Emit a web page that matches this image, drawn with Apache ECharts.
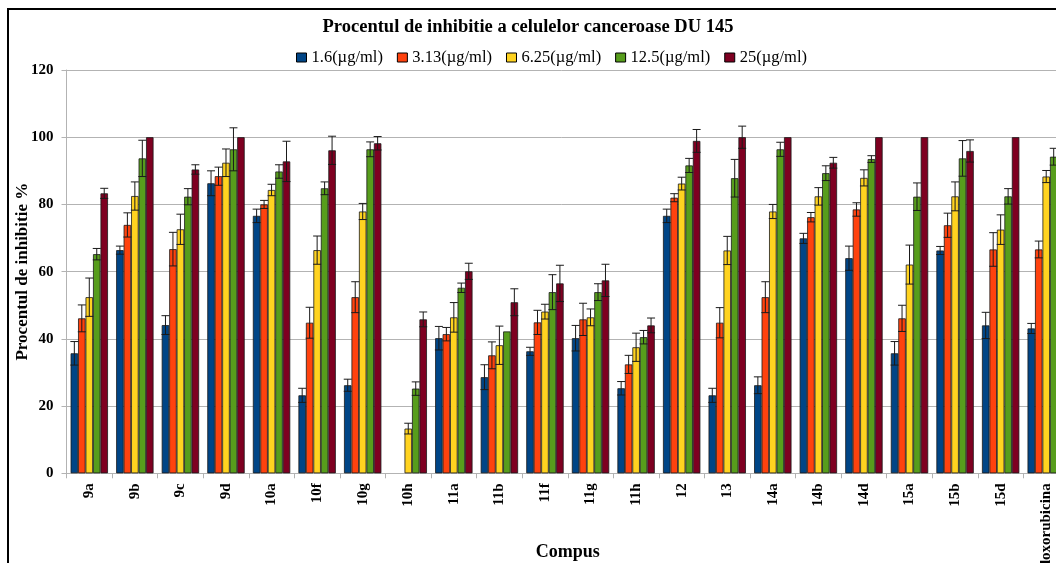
<!DOCTYPE html>
<html>
<head>
<meta charset="utf-8">
<script src="https://cdn.jsdelivr.net/npm/echarts@6/dist/echarts.min.js"></script>
<style>
  html, body { margin: 0; padding: 0; background: #fff; }
  #chart { width: 1056px; height: 563px; }
</style>
</head>
<body>
<div id="chart"></div>
<script>
// Compounds tested against DU 145 cells
const categories = ['9a', '9b', '9c', '9d', '10a', '10f', '10g', '10h', '11a', '11b', '11f', '11g', '11h', '12', '13', '14a', '14b', '14d', '15a', '15b', '15d', 'doxorubicina'];

// Concentration labels
const seriesNames = ['1.6(µg/ml)', '3.13(µg/ml)', '6.25(µg/ml)', '12.5(µg/ml)', '25(µg/ml)'];

// Inhibition (%) per concentration, with standard deviations
const inh1_6 = [35.7, 66.4, 44.1, 86.3, 76.6, 23.2, 26.2, null, 40.2, 28.6, 36.3, 40.2, 25.3, 76.6, 23.2, 26.2, 69.9, 64.0, 35.7, 66.3, 44.0, 43.1];
const sd1_6 = [3.5, 1.2, 2.8, 3.7, 2.0, 2.1, 1.8, null, 3.5, 3.7, 1.2, 3.8, 2.0, 2.0, 2.1, 2.5, 1.5, 3.6, 3.5, 1.2, 3.9, 1.5];

const inh3_13 = [46.1, 73.9, 66.7, 88.4, 80.0, 44.8, 52.4, null, 41.4, 35.1, 44.9, 45.8, 32.4, 82.0, 44.8, 52.4, 76.2, 78.5, 46.1, 73.8, 66.6, 66.6];
const sd3_13 = [4.0, 3.6, 5.0, 2.7, 1.2, 4.6, 4.6, null, 2.0, 4.0, 3.6, 4.8, 2.7, 1.2, 4.5, 4.6, 1.4, 2.0, 3.9, 3.6, 5.0, 2.5];

const inh6_25 = [52.4, 82.5, 72.6, 92.4, 84.3, 66.4, 77.9, 13.3, 46.4, 38.1, 48.1, 46.4, 37.5, 86.2, 66.3, 77.9, 82.4, 87.9, 62.1, 82.4, 72.5, 88.3];
const sd6_25 = [5.7, 4.2, 4.5, 4.1, 1.7, 4.2, 2.4, 1.6, 4.4, 5.7, 2.2, 2.5, 4.2, 1.9, 4.2, 2.1, 2.6, 2.4, 5.8, 4.3, 4.4, 1.8];

const inh12_5 = [65.2, 93.7, 82.3, 96.4, 89.8, 84.8, 96.4, 25.2, 55.2, 42.2, 53.9, 53.9, 40.5, 91.6, 87.8, 96.4, 89.3, 93.5, 82.3, 93.7, 82.4, 94.2];
const sd12_5 = [1.7, 5.4, 2.4, 6.4, 2.0, 1.9, 2.2, 2.0, 1.4, 0, 5.2, 2.5, 2.0, 2.1, 5.6, 2.1, 2.2, 1.0, 4.1, 5.3, 2.3, 2.5];

const inh25 = [83.3, 100, 90.4, 100, 92.8, 96.1, 98.2, 45.8, 60.1, 50.9, 56.5, 57.4, 44.0, 98.9, 100, 100, 92.4, 100, 100, 95.9, 100, 100];
const sd25 = [1.5, 0, 1.4, 0, 6.0, 4.2, 2.0, 2.2, 2.4, 4.0, 5.4, 4.8, 2.2, 3.4, 3.3, 0, 1.6, 0, 0, 3.3, 0, 0];

// Y axis ticks
const yTicks = { min: 0, max: 120, interval: 20 };

const values = [inh1_6, inh3_13, inh6_25, inh12_5, inh25];
const errors = [sd1_6, sd3_13, sd6_25, sd12_5, sd25];
const colors = ['#004586', '#ff420e', '#ffd320', '#579d1c', '#7e0021'];

const FONT = 'Liberation Serif';
const GAP = 0.18;          // category gap fraction
const NSER = values.length;

// Error bar renderer placed over the matching bar in the group
function makeErrorRenderer(si) {
  return function (params, api) {
    const idx = api.value(0);
    const v = api.value(1);
    const e = api.value(2);
    const top = api.coord([idx, v + e]);
    const bot = api.coord([idx, v - e]);
    const band = api.size([1, 0])[0];
    const bw = band * (1 - GAP) / NSER;
    const cx = top[0] - band * (1 - GAP) / 2 + bw * (si + 0.5);
    const half = 4;
    const style = { stroke: '#1a1a1a', lineWidth: 1 };
    return {
      type: 'group',
      children: [
        { type: 'line', shape: { x1: cx, y1: top[1], x2: cx, y2: bot[1] }, style },
        { type: 'line', shape: { x1: cx - half, y1: top[1], x2: cx + half, y2: top[1] }, style },
        { type: 'line', shape: { x1: cx - half, y1: bot[1], x2: cx + half, y2: bot[1] }, style }
      ]
    };
  };
}

const series = [];
values.forEach((vals, si) => {
  series.push({
    name: seriesNames[si],
    type: 'bar',
    data: vals,
    barGap: '0%',
    barCategoryGap: (GAP * 100) + '%',
    itemStyle: { color: colors[si], borderColor: '#1a1a1a', borderWidth: 0.8 },
    emphasis: { disabled: true }
  });
});
values.forEach((vals, si) => {
  const errData = [];
  vals.forEach((v, i) => {
    const e = errors[si][i];
    if (v != null && e) errData.push([i, v, e]);
  });
  series.push({
    type: 'custom',
    renderItem: makeErrorRenderer(si),
    data: errData,
    encode: { x: 0, y: 1 },
    z: 5,
    silent: true
  });
});

const chart = echarts.init(document.getElementById('chart'), null, { renderer: 'canvas' });
chart.setOption({
  animation: false,
  backgroundColor: '#fff',
  textStyle: { fontFamily: FONT },
  title: {
    text: 'Procentul de inhibitie a celulelor canceroase DU 145',
    left: 'center',
    top: 13,
    textStyle: { fontFamily: FONT, fontWeight: 'bold', fontSize: 18.5, color: '#000' }
  },
  legend: {
    data: seriesNames,
    left: 291,
    top: 44,
    itemWidth: 10,
    itemHeight: 9,
    itemGap: 14,
    icon: 'rect',
    itemStyle: { borderColor: '#000', borderWidth: 1 },
    textStyle: { fontFamily: FONT, fontSize: 16.5, color: '#000' }
  },
  grid: { left: 66.5, right: -13, top: 70, bottom: 89.7, containLabel: false, outerBoundsMode: 'none' },
  xAxis: {
    type: 'category',
    data: categories,
    name: 'Compus',
    nameLocation: 'middle',
    nameGap: 70,
    nameMoveOverlap: false,
    nameTextStyle: { fontFamily: FONT, fontWeight: 'bold', fontSize: 18, color: '#000' },
    axisLine: { lineStyle: { color: '#b3b3b3' } },
    axisTick: { show: true, length: 5, lineStyle: { color: '#b3b3b3' } },
    axisLabel: { rotate: 90, interval: 0, margin: 10, fontFamily: FONT, fontWeight: 'bold', fontSize: 15, color: '#000' },
    splitLine: { show: false }
  },
  yAxis: {
    type: 'value',
    min: yTicks.min,
    max: yTicks.max,
    interval: yTicks.interval,
    name: 'Procentul de inhibitie %',
    nameLocation: 'middle',
    nameGap: 35,
    nameMoveOverlap: false,
    nameTextStyle: { fontFamily: FONT, fontWeight: 'bold', fontSize: 17, color: '#000' },
    axisLine: { show: true, lineStyle: { color: '#b3b3b3' } },
    axisTick: { show: true, length: 5, lineStyle: { color: '#b3b3b3' } },
    axisLabel: { margin: 13, fontFamily: FONT, fontWeight: 'bold', fontSize: 15, color: '#000' },
    splitLine: { show: true, lineStyle: { color: '#b3b3b3', width: 1 } }
  },
  graphic: [{
    type: 'rect',
    shape: { x: 8, y: 9, width: 1200, height: 700 },
    style: { fill: 'none', stroke: '#000', lineWidth: 2 },
    silent: true,
    z: 100
  }],
  series
});
</script>
</body>
</html>
